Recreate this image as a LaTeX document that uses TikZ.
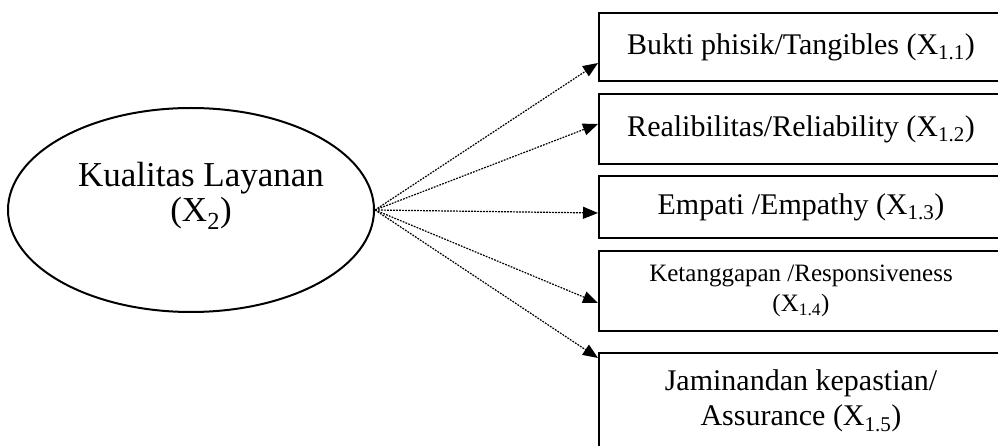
\documentclass[tikz,border=0pt]{standalone}
\usepackage{fontspec}
\setmainfont{Liberation Serif}
\usetikzlibrary{shapes.geometric,arrows.meta}
\begin{document}
\begin{tikzpicture}[x=1pt,y=-1pt,
  box/.style={draw,line width=2pt,rectangle,minimum width=404pt,inner sep=0pt,
    align=center,anchor=north west,font=\fontsize{30}{35}\selectfont},
  conn/.style={line width=1.2pt,dash pattern=on 1.8pt off 1.2pt,
    -{Triangle[length=15pt,width=12pt]}}]
\useasboundingbox (0,0) rectangle (998,446);
\clip (0,0) rectangle (998,446);
\node[draw,ellipse,line width=2pt,minimum width=366pt,minimum height=204pt,inner sep=0pt] (ell) at (191,210) {};
\node[align=center,font=\fontsize{35}{35}\selectfont] (elltext) at (201,196) {Kualitas Layanan\\(X\textsubscript{2})};
\node[box,minimum height=68pt] (b1) at (598,12) {Bukti phisik/Tangibles (X\textsubscript{1.1})};
\node[box,minimum height=70pt] (b2) at (598,93) {Realibilitas/Reliability (X\textsubscript{1.2})};
\node[box,minimum height=62pt] (b3) at (598,175) {Empati /Empathy (X\textsubscript{1.3})};
\node[box,minimum height=80pt,font=\fontsize{25}{30}\selectfont] (b4) at (598,250) {Ketanggapan /Responsiveness\\(X\textsubscript{1.4})};
\node[box,minimum height=96pt] (b5) at (598,352) {Jaminandan kepastian/\\Assurance (X\textsubscript{1.5})};
\draw[conn] (ell.east) -- ([yshift=-16pt]b1.west);
\draw[conn] (ell.east) -- ([yshift=5pt]b2.west);
\draw[conn] (ell.east) -- ([yshift=-6pt]b3.west);
\draw[conn] (ell.east) -- ([yshift=-12pt]b4.west);
\draw[conn] (ell.east) -- ([yshift=-6pt]b5.north west);
\end{tikzpicture}
\end{document}
